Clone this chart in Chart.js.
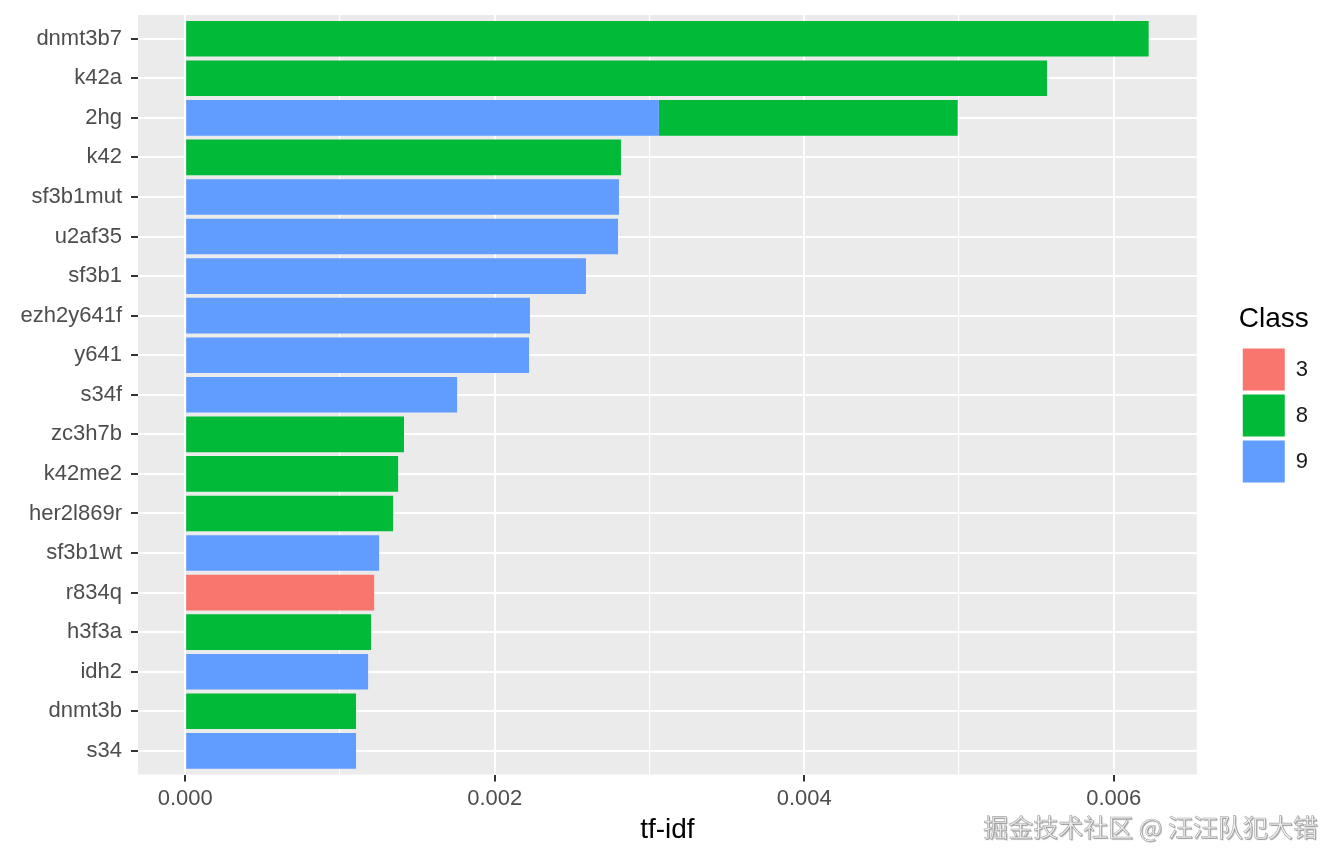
<!DOCTYPE html>
<html>
<head>
<meta charset="utf-8">
<script src="https://cdn.jsdelivr.net/npm/chart.js@4/dist/chart.umd.min.js"></script>
<style>
  html, body { margin: 0; padding: 0; background: #fff; }
  #wrap { width: 1344px; height: 864px; position: relative; }
</style>
</head>
<body>
<div id="wrap"><canvas id="grafica"></canvas></div>
<script>
const terms = ['dnmt3b7', 'k42a', '2hg', 'k42', 'sf3b1mut', 'u2af35', 'sf3b1', 'ezh2y641f', 'y641', 's34f',
  'zc3h7b', 'k42me2', 'her2l869r', 'sf3b1wt', 'r834q', 'h3f3a', 'idh2', 'dnmt3b', 's34'];

// tf-idf per class (null = term not in that class)
const class9 = [null, null, 0.003061, null, 0.002803, 0.002797, 0.002590, 0.002228, 0.002222, 0.001757,
  null, null, null, 0.001253, null, null, 0.001182, null, 0.001104];
const class8 = [0.006226, 0.005569, 0.001931, 0.002816, null, null, null, null, null, null,
  0.001414, 0.001376, 0.001343, null, null, 0.001201, null, 0.001104, null];
const class3 = [null, null, null, null, null, null, null, null, null, null,
  null, null, null, null, 0.001221, null, null, null, null];

const xMajorTicks = [0, 0.002, 0.004, 0.006];
const xMinorTicks = [0.001, 0.003, 0.005];
const xTickLabels = ['0.000', '0.002', '0.004', '0.006'];

const watermark = '掘金技术社区 @ 汪汪队犯大错';

Chart.defaults.font.family = '"Liberation Sans", Arial, sans-serif';
Chart.defaults.color = '#4D4D4D';

const panelBg = {
  id: 'panelBg',
  beforeDraw(chart) {
    const {ctx, chartArea: a} = chart;
    ctx.save();
    ctx.fillStyle = '#EBEBEB';
    ctx.fillRect(a.left, a.top, a.right - a.left, a.bottom - a.top);
    ctx.restore();
  }
};

const mark = {
  id: 'mark',
  afterDraw(chart) {
    const ctx = chart.ctx;
    ctx.save();
    ctx.font = '25px "Noto Sans CJK SC"';
    ctx.textAlign = 'right';
    ctx.textBaseline = 'middle';
    ctx.shadowColor = 'rgba(0,0,0,0.35)';
    ctx.shadowOffsetX = 1;
    ctx.shadowOffsetY = 1;
    ctx.shadowBlur = 1;
    ctx.fillStyle = '#eeeeee';
    ctx.fillText(watermark, 1318, 827);
    ctx.shadowColor = 'transparent';
    ctx.strokeStyle = 'rgba(90,90,90,0.5)';
    ctx.lineWidth = 0.6;
    ctx.strokeText(watermark, 1318, 827);
    ctx.restore();
  }
};

const isMajor = v => xMajorTicks.indexOf(v) !== -1;
// each term sits at its row index on the y axis
const rows = vals => vals.map((v, i) => ({ x: v, y: i }));

const data = {
  datasets: [
    { label: '9', data: rows(class9), backgroundColor: '#619CFF', xAxisID: 'x', yAxisID: 'y' },
    { label: '8', data: rows(class8), backgroundColor: '#00BA38', xAxisID: 'x', yAxisID: 'y' },
    { label: '3', data: rows(class3), backgroundColor: '#F8766D', xAxisID: 'x', yAxisID: 'y' }
  ]
};

const config = {
  type: 'bar',
  data: data,
  plugins: [panelBg, mark],
  options: {
    indexAxis: 'y',
    responsive: true,
    maintainAspectRatio: false,
    animation: false,
    barPercentage: 0.9,
    categoryPercentage: 1.0,
    layout: { padding: { top: 15, left: 0, right: 26, bottom: 20 } },
    scales: {
      x: {
        type: 'linear',
        stacked: true,
        min: -0.000305,
        max: 0.006537,
        afterBuildTicks: axis => { axis.ticks = xMajorTicks.concat(xMinorTicks).sort((a, b) => a - b).map(v => ({ value: v })); },
        afterFit: s => { s.paddingLeft = 0; s.paddingRight = 0; },
        ticks: {
          autoSkip: false,
          maxRotation: 0,
          padding: 4,
          color: '#4D4D4D',
          font: { size: 22 },
          callback: v => isMajor(v) ? xTickLabels[xMajorTicks.indexOf(v)] : ''
        },
        grid: {
          color: '#FFFFFF',
          lineWidth: c => isMajor(c.tick.value) ? 2 : 1.1,
          tickLength: 7,
          tickWidth: 2,
          tickColor: c => isMajor(c.tick.value) ? '#333333' : 'rgba(0,0,0,0)'
        },
        border: { display: false },
        title: {
          display: true,
          text: 'tf-idf',
          color: '#000000',
          font: { size: 28, lineHeight: 1.0 },
          padding: { top: 0, bottom: 0 }
        }
      },
      y: {
        type: 'linear',
        stacked: true,
        reverse: true,
        offset: false,
        min: -0.6,
        max: terms.length - 0.4,
        afterBuildTicks: axis => { axis.ticks = terms.map((t, i) => ({ value: i })); },
        afterFit: s => { s.width = 138; s.paddingTop = 0; s.paddingBottom = 0; },
        ticks: {
          padding: 9,
          color: '#4D4D4D',
          font: { size: 22 },
          autoSkip: false,
          callback: v => terms[v]
        },
        grid: {
          offset: false,
          color: '#FFFFFF',
          lineWidth: 2,
          tickLength: 7,
          tickWidth: 2,
          tickColor: '#333333'
        },
        border: { display: false }
      },
      gap: {
        type: 'linear',
        axis: 'y',
        position: 'right',
        display: true,
        grid: { display: false },
        ticks: { display: false },
        border: { display: false },
        afterFit: s => { s.width = 42; s.paddingTop = 0; s.paddingBottom = 0; }
      }
    },
    plugins: {
      tooltip: { enabled: false },
      legend: {
        position: 'right',
        align: 'start',
        reverse: true,
        title: {
          display: true,
          text: 'Class',
          position: 'start',
          color: '#000000',
          font: { size: 28 },
          padding: { top: 290, bottom: 6 }
        },
        labels: {
          boxWidth: 42,
          boxHeight: 42,
          padding: 4,
          color: '#1A1A1A',
          font: { size: 22 }
        }
      }
    }
  }
};

new Chart(document.querySelector('#grafica'), config);
</script>
</body>
</html>
